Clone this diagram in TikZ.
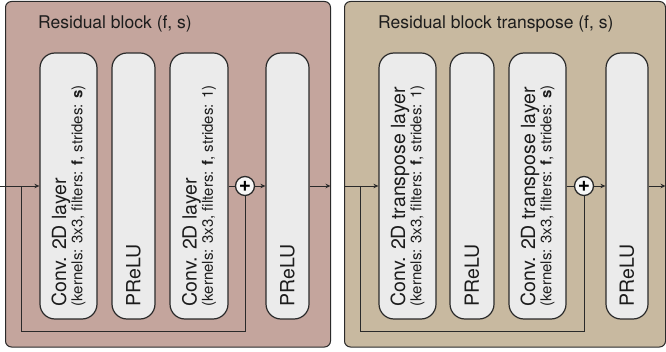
\documentclass[tikz,border=0pt]{standalone}
\usepackage{fontspec}
\setmainfont{TeX Gyre Heros}
\usetikzlibrary{arrows.meta}
\definecolor{ink}{HTML}{1C1C1C}
\definecolor{edge}{HTML}{2A2A2A}
\definecolor{rose}{HTML}{C4A59D}
\definecolor{sand}{HTML}{C8B9A0}
\definecolor{layer}{HTML}{EBEBEB}
\definecolor{knob}{HTML}{F7F7F7}

\begin{document}
\begin{tikzpicture}[x=1pt,y=-1pt,
    panel/.style={rounded corners=6pt,draw=edge,line width=1pt},
    layerbox/.style={rounded corners=15pt,draw=edge,line width=1.2pt,fill=layer,minimum height=266pt,inner sep=0pt},
    lbl/.style={rotate=90,anchor=west,align=left,inner sep=0pt,text=ink,font=\fontsize{19.5}{14}\selectfont},
    ttl/.style={anchor=base west,inner sep=0pt,text=ink,font=\fontsize{17.5}{20}\selectfont},
    addop/.style={circle,draw=edge,fill=knob,line width=1.3pt,minimum size=19pt,inner sep=0pt,font=\bfseries\fontsize{21}{21}\selectfont},
    wire/.style={line width=0.9pt,draw=edge},
    arr/.style={-{Stealth[length=5pt,width=4.5pt]},line width=0.9pt,draw=edge}]
    \useasboundingbox (0,0) rectangle (666,352);
    % panels
    \draw[panel,fill=rose] (5.5,1.5) rectangle (330.5,347);
    \draw[panel,fill=sand] (344.5,1.5) rectangle (665.5,347);
    \node[ttl] (ta) at (38,29) {Residual block (f, s)};
    \node[ttl] (tb) at (378,29) {Residual block transpose (f, s)};
    % residual block
    \node[layerbox,minimum width=57pt] (conva) at (68.5,186) {};
    \node[layerbox,minimum width=43pt] (prelua) at (133.5,186) {};
    \node[layerbox,minimum width=58pt] (convb) at (199,186) {};
    \node[layerbox,minimum width=43pt] (prelub) at (287.5,186) {};
    \node[lbl] (convalbl) at ([yshift=13pt]conva.south) {Conv. 2D layer\\{\fontsize{15}{14}\selectfont(kernels: 3x3, filters: \textbf{f}, strides: \textbf{s})}};
    \node[lbl] (prelualbl) at ([yshift=13pt]prelua.south) {PReLU};
    \node[lbl] (convblbl) at ([yshift=13pt]convb.south) {Conv. 2D layer\\{\fontsize{15}{14}\selectfont(kernels: 3x3, filters: \textbf{f}, strides: 1)}};
    \node[lbl] (prelublbl) at ([yshift=13pt]prelub.south) {PReLU};
    \node[addop] (adda) at (245,186) {+};
    \coordinate (ina) at (0,186);
    \coordinate (skipa) at (21,186);
    \coordinate (skipab) at (21,331);
    \coordinate (outa) at (330.5,186);
    \draw[arr] (ina)--(conva); \draw[wire] (convb)--(adda); \draw[arr] (adda)--(prelub); \draw[arr] (prelub)--(outa);
    \draw[wire] (skipa)--(skipab)-|(adda);
    % residual block transpose
    \node[layerbox,minimum width=57pt] (tconva) at (407.5,186) {};
    \node[layerbox,minimum width=44pt] (tprelua) at (472,186) {};
    \node[layerbox,minimum width=57pt] (tconvb) at (537.5,186) {};
    \node[layerbox,minimum width=42pt] (tprelub) at (627,186) {};
    \node[lbl] (tconvalbl) at ([yshift=13pt]tconva.south) {Conv. 2D transpose layer\\{\fontsize{15}{14}\selectfont(kernels: 3x3, filters: \textbf{f}, strides: 1)}};
    \node[lbl] (tprelualbl) at ([yshift=13pt]tprelua.south) {PReLU};
    \node[lbl] (tconvblbl) at ([yshift=13pt]tconvb.south) {Conv. 2D transpose layer\\{\fontsize{15}{14}\selectfont(kernels: 3x3, filters: \textbf{f}, strides: \textbf{s})}};
    \node[lbl] (tprelublbl) at ([yshift=13pt]tprelub.south) {PReLU};
    \node[addop] (addb) at (584,186) {+};
    \coordinate (inb) at (344.5,186);
    \coordinate (skipb) at (360,186);
    \coordinate (skipbb) at (360,331);
    \coordinate (outb) at (665.5,186);
    \draw[arr] (inb)--(tconva); \draw[wire] (tconvb)--(addb); \draw[arr] (addb)--(tprelub); \draw[arr] (tprelub)--(outb);
    \draw[wire] (skipb)--(skipbb)-|(addb);
  \end{tikzpicture}
\end{document}
